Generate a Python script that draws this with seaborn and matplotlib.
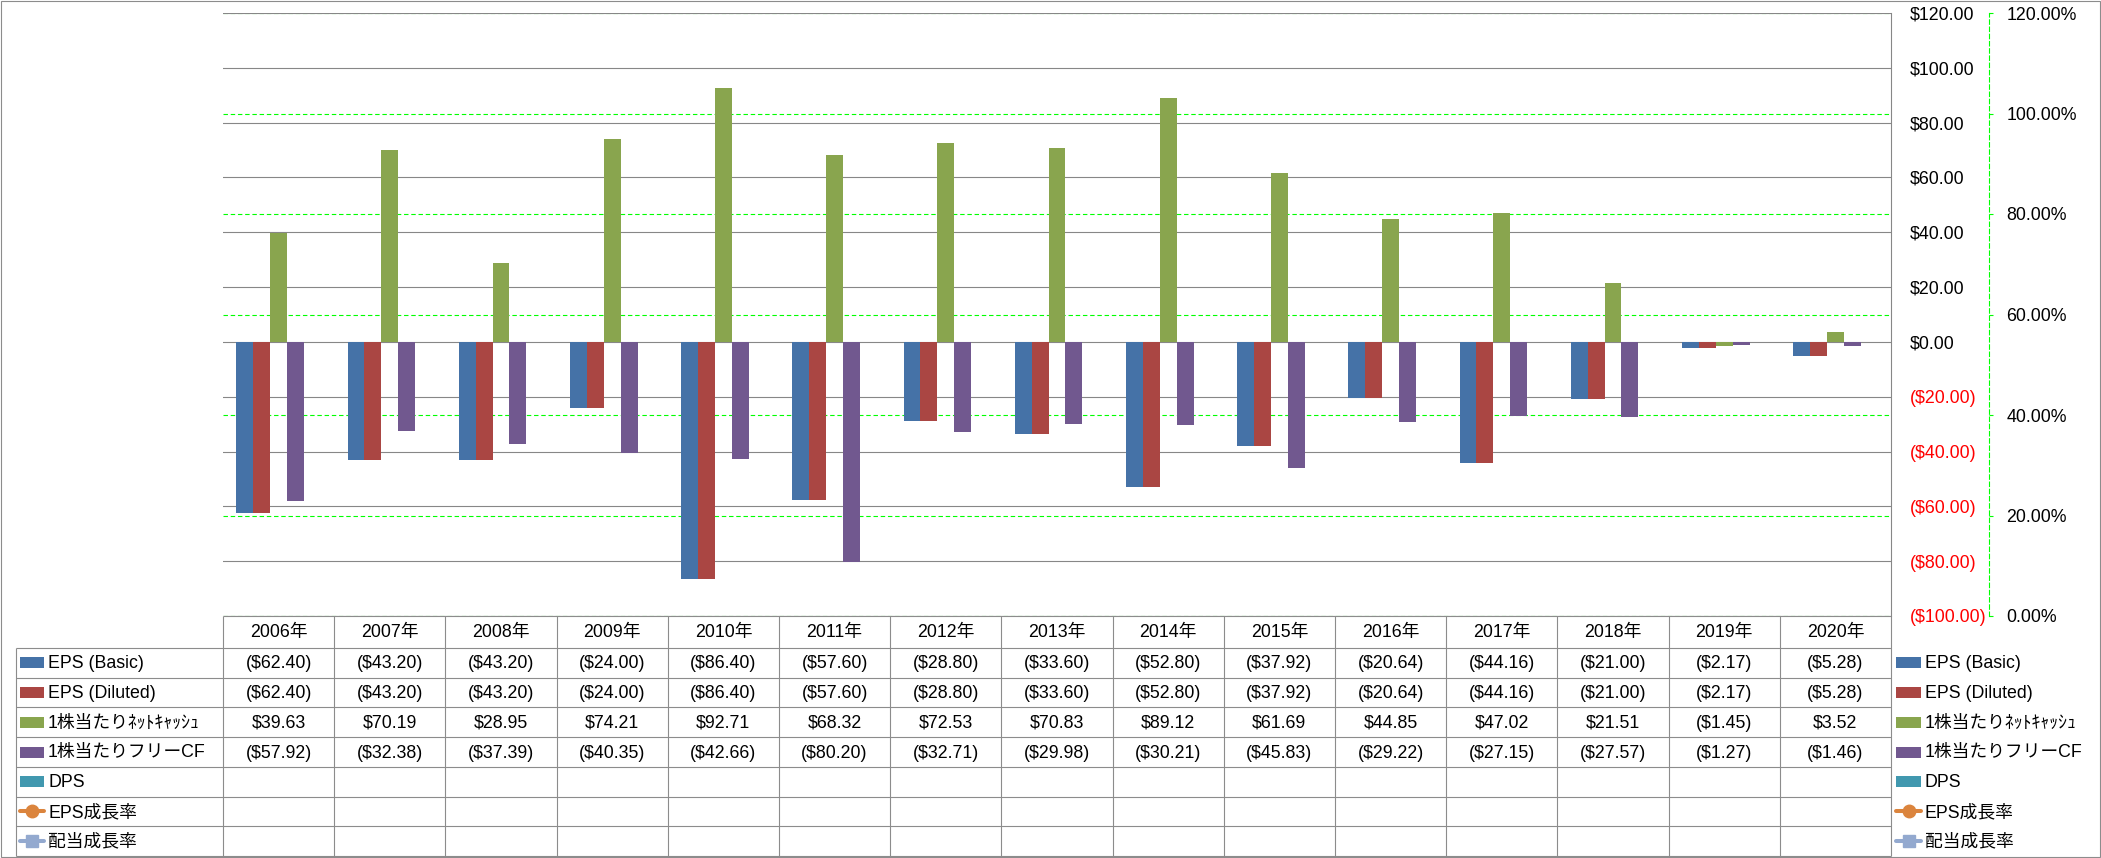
import numpy as np
import pandas as pd
import matplotlib
matplotlib.use("Agg")
import matplotlib.pyplot as plt
import seaborn as sns
from matplotlib.ticker import FuncFormatter
from matplotlib.patches import Rectangle

# ---------------- data ----------------
years = ["2006年", "2007年", "2008年", "2009年", "2010年", "2011年", "2012年", "2013年",
         "2014年", "2015年", "2016年", "2017年", "2018年", "2019年", "2020年"]
eps_basic = [-62.40, -43.20, -43.20, -24.00, -86.40, -57.60, -28.80, -33.60, -52.80,
             -37.92, -20.64, -44.16, -21.00, -2.17, -5.28]
eps_diluted = [-62.40, -43.20, -43.20, -24.00, -86.40, -57.60, -28.80, -33.60, -52.80,
               -37.92, -20.64, -44.16, -21.00, -2.17, -5.28]
net_cash_ps = [39.63, 70.19, 28.95, 74.21, 92.71, 68.32, 72.53, 70.83, 89.12,
               61.69, 44.85, 47.02, 21.51, -1.45, 3.52]
free_cf_ps = [-57.92, -32.38, -37.39, -40.35, -42.66, -80.20, -32.71, -29.98, -30.21,
              -45.83, -29.22, -27.15, -27.57, -1.27, -1.46]
dps = [np.nan] * 15
eps_growth = [np.nan] * 15
div_growth = [np.nan] * 15

series_names = ["EPS (Basic)", "EPS (Diluted)", "1株当たりﾈｯﾄｷｬｯｼｭ", "1株当たりフリーCF",
                "DPS", "EPS成長率", "配当成長率"]
series_values = [eps_basic, eps_diluted, net_cash_ps, free_cf_ps, dps, eps_growth, div_growth]
series_kind = ["bar", "bar", "bar", "bar", "bar", "line_o", "line_s"]
series_colors = ["#4572A7", "#AA4643", "#89A54E", "#71588F", "#4198AF", "#DB843D", "#93A9CF"]

primary_ticks = [-100, -80, -60, -40, -20, 0, 20, 40, 60, 80, 100, 120]
secondary_ticks = [0.0, 0.2, 0.4, 0.6, 0.8, 1.0, 1.2]

# ---------------- style ----------------
FONT = ["Liberation Sans", "Noto Sans CJK JP"]
plt.rcParams["font.family"] = FONT
FS = 12.8
GRID_GRAY = "#878787"
LIME = "#00FF00"

W, H, DPI = 2101, 858, 100
fig = plt.figure(figsize=(W / DPI, H / DPI), dpi=DPI, facecolor="white")

PLOT_L, PLOT_R, PLOT_T, PLOT_B = 223, 1891, 13, 616
ax = fig.add_axes([PLOT_L / W, 1 - PLOT_B / H, (PLOT_R - PLOT_L) / W, (PLOT_B - PLOT_T) / H])
ax2 = ax.twinx()
ax.set_zorder(ax2.get_zorder() + 1)
ax.patch.set_visible(False)


def money(v):
    return f"${v:,.2f}" if v >= 0 else f"(${-v:,.2f})"


# ---------------- bars ----------------
bar_names = [n for n, k in zip(series_names, series_kind) if k == "bar"]
rows = []
for name, vals, kind in zip(series_names, series_values, series_kind):
    if kind != "bar":
        continue
    for yr, v in zip(years, vals):
        rows.append({"year": yr, "series": name, "value": v})
df = pd.DataFrame(rows)
palette = dict(zip(series_names, series_colors))

sns.barplot(data=df, x="year", y="value", hue="series", order=years, hue_order=bar_names,
            palette=palette, width=0.76, errorbar=None, saturation=1, linewidth=0,
            legend=False, ax=ax)

ax.set_xlim(-0.5, len(years) - 0.5)
ax.set_ylim(-100, 120)
ax.set_xticks([])
ax.set_xlabel("")
ax.set_ylabel("")
ax.set_axisbelow(True)
ax.yaxis.grid(True, color=GRID_GRAY, lw=0.8)
ax.xaxis.grid(False)
ax.yaxis.tick_right()
ax.set_yticks(primary_ticks)
ax.set_yticklabels([money(v) for v in primary_ticks])
for lbl, v in zip(ax.get_yticklabels(), primary_ticks):
    lbl.set_color("#FF0000" if v < 0 else "black")
ax.tick_params(axis="y", length=0, pad=13.5, labelsize=FS)
for s in ["left", "top", "bottom"]:
    ax.spines[s].set_visible(False)
ax.spines["right"].set_color(GRID_GRAY)
ax.spines["right"].set_linewidth(0.8)

# ---------------- secondary axis ----------------
ax2.set_ylim(0, 1.2)
ax2.set_yticks(secondary_ticks)
ax2.yaxis.set_major_formatter(FuncFormatter(lambda v, p: f"{v * 100:.2f}%"))
ax2.yaxis.grid(True, color=LIME, lw=0.8, linestyle=(0, (4, 2.5)))
for s in ["left", "top", "bottom"]:
    ax2.spines[s].set_visible(False)
ax2.spines["right"].set_position(("outward", (1989 - PLOT_R) * 72 / DPI))
ax2.spines["right"].set_color(LIME)
ax2.spines["right"].set_linestyle((0, (4, 2.5)))
ax2.spines["right"].set_linewidth(0.8)
ax2.tick_params(axis="y", direction="out", length=3, width=0.8, color=LIME,
                pad=9.5, labelsize=FS, labelcolor="black")

# ---------------- data table + legends (pixel overlay) ----------------
tax = fig.add_axes([0, 0, 1, 1])
tax.set_xlim(0, W)
tax.set_ylim(H, 0)
tax.axis("off")

xs = [ax.transData.transform((i - 0.5, 0))[0] for i in range(len(years) + 1)]
HEAD_T, HEAD_B, TBL_BOT = 616, 648, 856
ROW_H = (TBL_BOT - HEAD_B) / len(series_names)
TBL_L = 16
LINE_C = "#8C8C8C"
LW = 0.8

tax.hlines(HEAD_T, xs[0], xs[-1], color=LINE_C, lw=LW)
for k in range(len(series_names) + 1):
    tax.hlines(HEAD_B + k * ROW_H, TBL_L, xs[-1], color=LINE_C, lw=LW)
tax.vlines(TBL_L, HEAD_B, TBL_BOT, color=LINE_C, lw=LW)
for x in xs:
    tax.vlines(x, HEAD_T, TBL_BOT, color=LINE_C, lw=LW)

for i, yr in enumerate(years):
    cx = (xs[i] + xs[i + 1]) / 2
    tax.text(cx, (HEAD_T + HEAD_B) / 2 + 1, yr, ha="center", va="center", fontsize=FS)
    for r, vals in enumerate(series_values):
        v = vals[i]
        if v is None or (isinstance(v, float) and np.isnan(v)):
            continue
        cy = HEAD_B + (r + 0.5) * ROW_H
        tax.text(cx, cy + 1, money(v), ha="center", va="center", fontsize=FS)


def draw_key(x0, x1, cy, kind, color, name):
    if kind == "bar":
        tax.add_patch(Rectangle((x0, cy - 5.5), x1 - x0, 11, facecolor=color, edgecolor="none"))
    else:
        tax.plot([x0, x1], [cy, cy], color=color, lw=2.9, solid_capstyle="round")
        tax.plot([(x0 + x1) / 2], [cy], marker="o" if kind == "line_o" else "s",
                 ms=9, color=color, mec=color)
    tax.text(x1 + 4, cy + 1, name, ha="left", va="center", fontsize=FS)


for r, (name, kind, color) in enumerate(zip(series_names, series_kind, series_colors)):
    cy = HEAD_B + (r + 0.5) * ROW_H
    draw_key(20, 44, cy, kind, color, name)
    draw_key(1896, 1921, cy, kind, color, name)

tax.add_patch(Rectangle((0.5, 0.5), W - 1.5, H - 1.5, facecolor="none", edgecolor=LINE_C, lw=LW))

fig.savefig("out.png", dpi=DPI, facecolor="white")
